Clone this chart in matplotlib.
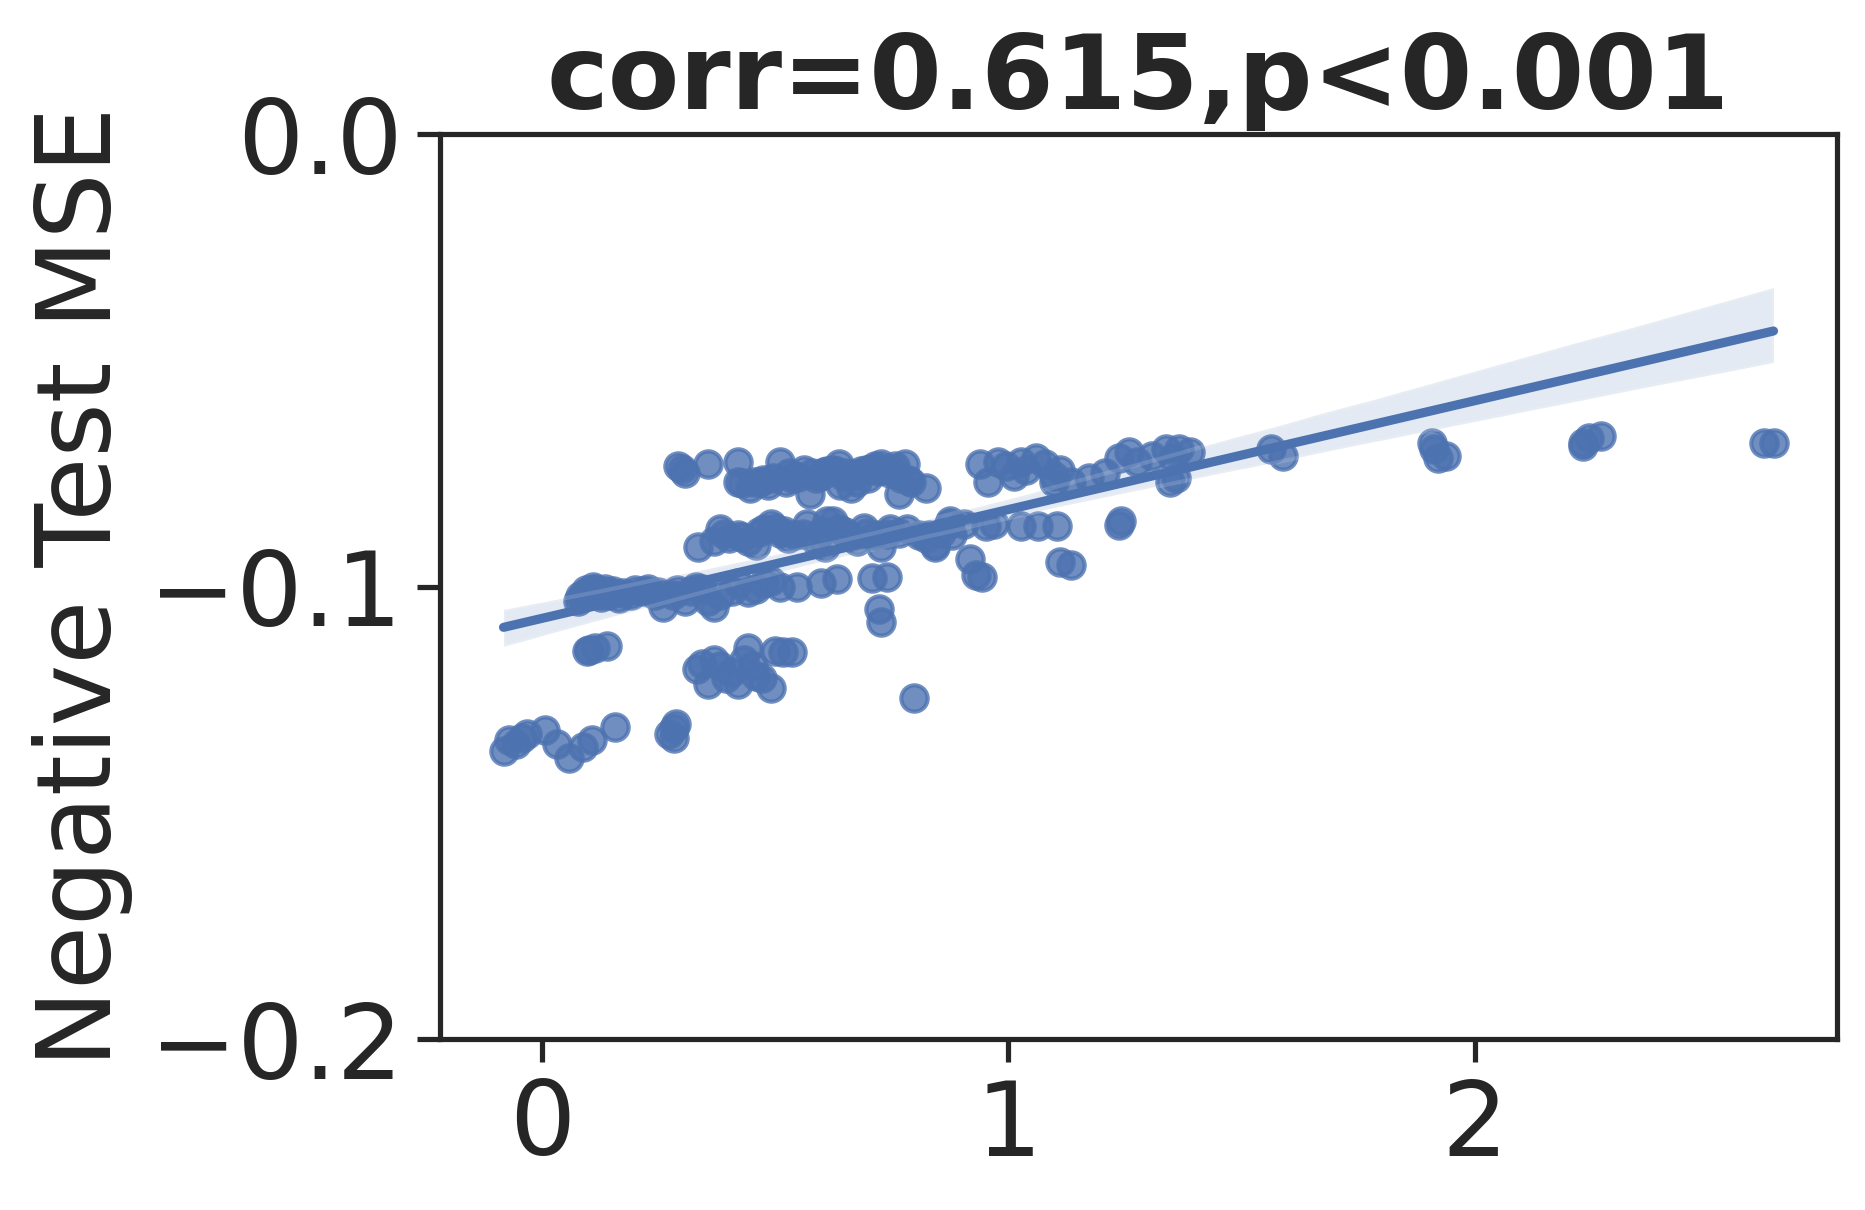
import numpy as np
import matplotlib
matplotlib.use("Agg")
import matplotlib.pyplot as plt
import seaborn as sns

# ---- data ----
x_bottom = [-0.082, -0.071, -0.056, -0.043, -0.031, 0.008, 0.033, 0.059, 0.089, 0.107, 0.156,
            0.273, 0.283, 0.288, 0.283]
y_bottom = [-0.1363, -0.1339, -0.1347, -0.1334, -0.1326, -0.1318, -0.1347, -0.1379, -0.1355, -0.1339, -0.1311,
            -0.1326, -0.1334, -0.1303, -0.1313]

x_low = [0.097, 0.102, 0.115, 0.140,
         0.332, 0.344, 0.357, 0.370, 0.383, 0.395, 0.408, 0.421, 0.434, 0.441, 0.452, 0.459, 0.472, 0.492,
         0.500, 0.518, 0.536, 0.798]
y_low = [-0.1142, -0.1140, -0.1137, -0.1132,
         -0.1182, -0.1171, -0.1216, -0.1163, -0.1176, -0.1203, -0.1189, -0.1216, -0.1163, -0.1137, -0.1176,
         -0.1197, -0.1203, -0.1224, -0.1142, -0.1145, -0.1145, -0.1247]

x_band = [0.077, 0.089, 0.102, 0.115, 0.128, 0.145, 0.166, 0.191, 0.217, 0.242, 0.260, 0.281, 0.306, 0.319,
          0.344, 0.357, 0.370, 0.383, 0.408, 0.421, 0.441, 0.459, 0.477, 0.492, 0.510, 0.548, 0.599, 0.633,
          0.707, 0.740, 0.722, 0.727,
          0.082, 0.095, 0.110, 0.122, 0.135, 0.152, 0.175, 0.200, 0.228, 0.250, 0.290, 0.330]
y_band = [-0.1032, -0.1018, -0.1013, -0.1005, -0.1024, -0.1018, -0.1026, -0.1018, -0.1011, -0.1018, -0.1045,
          -0.1018, -0.1032, -0.1011, -0.1005, -0.1032, -0.1045, -0.1018, -0.1011, -0.0992, -0.1013, -0.1005,
          -0.0992, -0.0987, -0.1000, -0.1000, -0.0992, -0.0984, -0.0982, -0.0979, -0.1050, -0.1079,
          -0.1020, -0.1008, -0.1000, -0.1012, -0.1005, -0.1010, -0.1015, -0.1008, -0.1005, -0.1012, -0.1008, -0.1000]

x_mid = [0.334, 0.370, 0.383, 0.401, 0.421, 0.441, 0.459, 0.477, 0.492, 0.510, 0.528, 0.543, 0.569, 0.587,
         0.607, 0.625, 0.638, 0.656, 0.676, 0.696, 0.714, 0.727, 0.747, 0.765, 0.783, 0.809, 0.824, 0.842,
         0.855, 0.872, 0.880, 0.612,
         0.390, 0.430, 0.465, 0.500, 0.520, 0.560, 0.600, 0.650, 0.690, 0.740]
y_mid = [-0.0913, -0.0900, -0.0874, -0.0892, -0.0887, -0.0900, -0.0908, -0.0874, -0.0861, -0.0882, -0.0892,
         -0.0887, -0.0861, -0.0900, -0.0913, -0.0855, -0.0874, -0.0887, -0.0900, -0.0882, -0.0887, -0.0913,
         -0.0874, -0.0882, -0.0874, -0.0887, -0.0892, -0.0908, -0.0882, -0.0861, -0.0887, -0.0855,
         -0.0885, -0.0890, -0.0880, -0.0870, -0.0878, -0.0885, -0.0878, -0.0880, -0.0870, -0.0885]

x_top = [0.293, 0.306, 0.357, 0.421, 0.421, 0.446, 0.467, 0.485, 0.510, 0.523, 0.543, 0.561, 0.574, 0.599,
         0.625, 0.638, 0.651, 0.663, 0.676, 0.696, 0.714, 0.727, 0.747, 0.758, 0.778, 0.791, 0.824, 0.765,
         0.536, 0.587, 0.612, 0.700,
         0.300, 0.430, 0.455, 0.475, 0.495, 0.530, 0.550, 0.580, 0.605, 0.630, 0.645, 0.670, 0.685, 0.705,
         0.720, 0.735, 0.750, 0.770, 0.785, 0.640]
y_top = [-0.0734, -0.0750, -0.0729, -0.0724, -0.0768, -0.0782, -0.0768, -0.0776, -0.0724, -0.0768, -0.0755,
         -0.0742, -0.0795, -0.0755, -0.0742, -0.0729, -0.0750, -0.0782, -0.0768, -0.0742, -0.0734, -0.0729,
         -0.0750, -0.0734, -0.0729, -0.0768, -0.0782, -0.0795, -0.0761, -0.0760, -0.0745, -0.0760,
         -0.0740, -0.0772, -0.0770, -0.0765, -0.0760, -0.0750, -0.0758, -0.0750, -0.0748, -0.0745, -0.0755,
         -0.0752, -0.0745, -0.0740, -0.0745, -0.0740, -0.0742, -0.0760, -0.0765, -0.0775]

x_right = [0.939, 0.957, 0.977, 0.995, 1.013, 1.028, 1.038, 1.059, 1.079, 1.097, 1.110, 1.097, 1.135, 1.173,
           1.207, 1.237, 1.258, 1.276, 1.309, 1.339, 1.352, 1.365, 1.390, 1.347, 1.360,
           0.829, 0.842, 0.875, 0.906, 0.918, 0.931, 0.944, 0.952, 0.969, 1.028, 1.064, 1.105, 1.110, 1.135,
           1.237, 1.242]
y_right = [-0.0729, -0.0768, -0.0724, -0.0734, -0.0755, -0.0724, -0.0742, -0.0716, -0.0729, -0.0755, -0.0742,
           -0.0768, -0.0768, -0.0761, -0.0750, -0.0716, -0.0703, -0.0724, -0.0711, -0.0697, -0.0716, -0.0697,
           -0.0703, -0.0768, -0.0761,
           -0.0887, -0.0913, -0.0855, -0.0861, -0.0939, -0.0974, -0.0979, -0.0866, -0.0861, -0.0866, -0.0866,
           -0.0866, -0.0945, -0.0953, -0.0863, -0.0855]

x_far = [1.564, 1.589, 1.908, 1.913, 1.921, 1.939, 2.232, 2.245, 2.270, 2.232, 2.620, 2.640]
y_far = [-0.0697, -0.0711, -0.0682, -0.0697, -0.0716, -0.0711, -0.0682, -0.0671, -0.0668, -0.0689, -0.0682, -0.0682]

title_text = "corr=0.615,p<0.001"
ylabel_text = "Negative Test MSE"
xticks = [0, 1, 2]
yticks = [-0.2, -0.1, 0.0]

x = np.array(x_bottom + x_low + x_band + x_mid + x_top + x_right + x_far)
y = np.array(y_bottom + y_low + y_band + y_mid + y_top + y_right + y_far)

sns.set_theme(style="ticks")
plt.rcParams['font.family'] = ['DejaVu Sans']

fig = plt.figure(figsize=(1865 / 300, 1210 / 300), dpi=300)
ax = fig.add_axes([440 / 1865, 1 - 1039 / 1210, (1837 - 440) / 1865, (1039 - 134) / 1210])

sns.regplot(x=x, y=y, ax=ax, color="#4C72B0", seed=0,
            scatter_kws={"s": 40, "alpha": 0.8, "linewidths": 1.0},
            line_kws={"lw": 2.2})

ax.set_ylim(-0.2, 0.0)
ax.set_yticks(yticks)
ax.set_xticks(xticks)
ax.tick_params(axis="both", labelsize=25, length=5.5, width=1.25, colors="#262626")
ax.set_ylabel(ylabel_text, fontsize=25, color="#262626")
ax.set_xlabel("")
ax.set_title(title_text, fontsize=25, fontweight="bold", color="#262626")
for s in ax.spines.values():
    s.set_linewidth(1.25)
    s.set_color("#262626")

fig.savefig("out.png", dpi=300)
